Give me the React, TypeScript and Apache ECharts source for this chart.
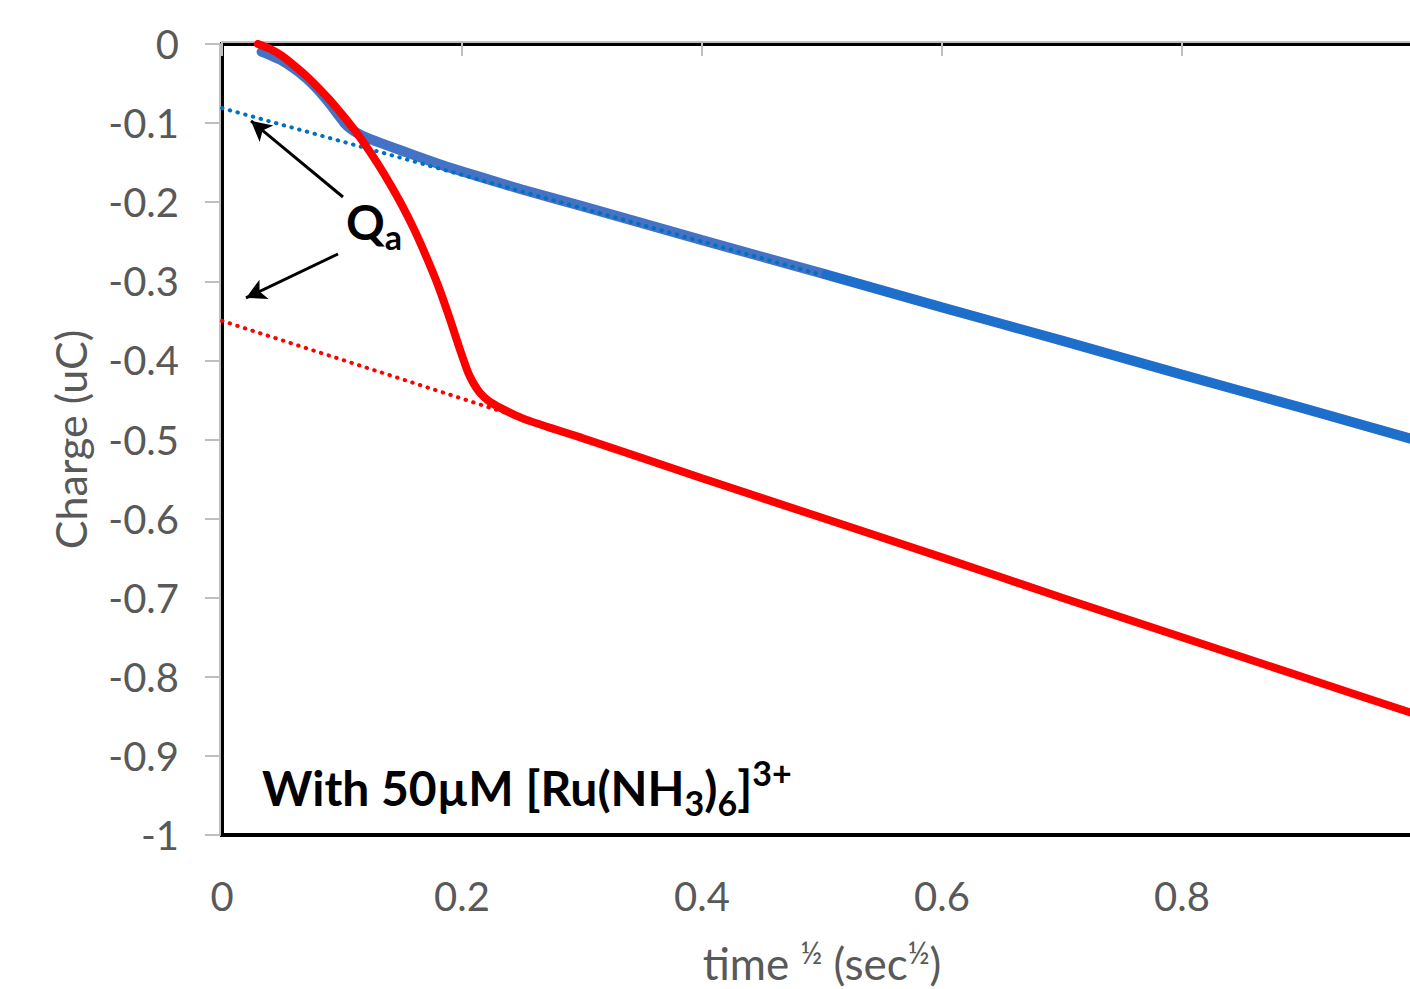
import React, { useEffect, useRef } from "react";
import * as echarts from "echarts";

// time^1/2 (sec^1/2) and charge (uC)
const blueT = [0.033, 0.04, 0.05, 0.06, 0.07, 0.08, 0.09, 0.097, 0.102, 0.107, 0.112, 0.12, 0.132, 0.15, 0.17, 0.187, 0.215, 0.25, 0.3, 0.4, 0.5, 0.6, 0.7, 0.8, 0.9, 1.0];
const blueQ = [-0.010, -0.014, -0.021, -0.031, -0.043, -0.058, -0.076, -0.090, -0.100, -0.107, -0.112, -0.118, -0.125, -0.135, -0.146, -0.155, -0.168, -0.184, -0.205, -0.248, -0.290, -0.333, -0.375, -0.418, -0.460, -0.503];

const redT = [0.03, 0.04, 0.05, 0.06, 0.07, 0.08, 0.09, 0.1, 0.11, 0.12, 0.13, 0.14, 0.15, 0.16, 0.17, 0.18, 0.19, 0.198, 0.205, 0.21, 0.215, 0.222, 0.232, 0.25, 0.273, 0.3, 0.4, 0.5, 0.6, 0.7, 0.8, 0.9, 1.0];
const redQ = [0.0, -0.006, -0.015, -0.027, -0.040, -0.055, -0.071, -0.089, -0.108, -0.129, -0.152, -0.177, -0.204, -0.234, -0.268, -0.305, -0.348, -0.385, -0.415, -0.430, -0.441, -0.451, -0.460, -0.473, -0.485, -0.498, -0.549, -0.599, -0.649, -0.700, -0.750, -0.800, -0.850];

// tangent (extrapolation) lines giving Qa
const blueFitT = [0, 0.5];
const blueFitQ = [-0.081, -0.292];
const redFitT = [0, 0.24];
const redFitQ = [-0.35, -0.468];

const xTicks = [0, 0.2, 0.4, 0.6, 0.8, 1.0];
const yTicks = [0, -0.1, -0.2, -0.3, -0.4, -0.5, -0.6, -0.7, -0.8, -0.9, -1];

// annotation arrows (tail -> head), in data coordinates
const arrows = [
  [[0.1008, -0.1934], [0.0242, -0.0973]],
  [[0.0967, -0.2655], [0.02, -0.321]],
];

const pairs = (xs: number[], ys: number[]) => xs.map((x, i) => [x, ys[i]]);

const FONT = "Lato, 'Open Sans', sans-serif";
const GRAY = "#595959";
const AXIS_GRAY = "#BFBFBF";

export default function App() {
  const ref = useRef<HTMLDivElement>(null);
  useEffect(() => {
    if (!ref.current) return;
    const chart = echarts.init(ref.current, null, { renderer: "svg" });
    const blueAll = pairs(blueT, blueQ);
    const option: any = {
      animation: false,
      backgroundColor: "#fff",
      textStyle: { fontFamily: FONT },
      grid: {
        left: 222,
        top: 44,
        width: 1200,
        height: 791,
        outerBoundsMode: "none",
        containLabel: false,
        show: true,
        borderColor: "#000",
        borderWidth: 4,
      },
      xAxis: [
        {
          type: "value",
          min: xTicks[0],
          max: xTicks[xTicks.length - 1],
          interval: 0.2,
          position: "bottom",
          axisLine: { show: false },
          axisTick: { show: false },
          splitLine: { show: false },
          axisLabel: {
            fontSize: 40,
            color: GRAY,
            fontFamily: FONT,
            margin: 41,
            formatter: (v: number) => (v >= 1 ? "" : String(+v.toFixed(1))),
          },
          name: "{a|time }{h|½}{a| (sec}{h|½}{a|)}",
          nameLocation: "middle",
          nameGap: 102,
          nameTextStyle: {
            rich: {
              a: { fontSize: 44, color: GRAY, fontFamily: FONT, lineHeight: 52 },
              h: { fontSize: 30, color: GRAY, fontFamily: FONT, lineHeight: 52, verticalAlign: "top" },
            },
          },
        },
        {
          type: "value",
          min: xTicks[0],
          max: xTicks[xTicks.length - 1],
          interval: 0.2,
          position: "top",
          offset: 2,
          axisLine: { show: true, onZero: false, lineStyle: { color: AXIS_GRAY, width: 2 } },
          axisTick: { show: true, inside: true, length: 14, lineStyle: { color: AXIS_GRAY, width: 2 } },
          axisLabel: { show: false },
          splitLine: { show: false },
        },
      ],
      yAxis: {
        type: "value",
        min: yTicks[yTicks.length - 1],
        max: yTicks[0],
        interval: 0.1,
        offset: 2,
        axisLine: { show: true, onZero: false, lineStyle: { color: AXIS_GRAY, width: 2 } },
        axisTick: { show: true, length: 15, lineStyle: { color: AXIS_GRAY, width: 2 } },
        splitLine: { show: false },
        axisLabel: {
          fontSize: 40,
          color: GRAY,
          fontFamily: FONT,
          margin: 41,
          formatter: (v: number) => String(+v.toFixed(1)),
        },
        name: "Charge (uC)",
        nameLocation: "middle",
        nameGap: 128,
        nameRotate: 90,
        nameTextStyle: { fontSize: 43, color: GRAY, fontFamily: FONT },
      },
      series: [
        {
          name: "blue",
          type: "line",
          data: blueAll,
          showSymbol: false,
          smooth: 0.2,
          lineStyle: { color: "#4472C4", width: 10, cap: "round" },
          z: 2,
        },
        {
          name: "blueTail",
          type: "line",
          data: blueAll.filter((p) => p[0] >= 0.5),
          showSymbol: false,
          lineStyle: { color: "#1C6FCA", width: 9 },
          z: 3,
        },
        {
          name: "blueFit",
          type: "line",
          data: pairs(blueFitT, blueFitQ),
          showSymbol: false,
          lineStyle: { color: "#0070C0", width: 4, type: [0.5, 7.5], cap: "round" },
          z: 4,
        },
        {
          name: "redFit",
          type: "line",
          data: pairs(redFitT, redFitQ),
          showSymbol: false,
          lineStyle: { color: "#FF0000", width: 4, type: [0.5, 7.5], cap: "round" },
          z: 4,
          markLine: {
            silent: true,
            symbol: ["none", "arrow"],
            symbolSize: [16, 20],
            label: { show: false },
            lineStyle: { color: "#000", width: 3, type: "solid" },
            data: arrows.map((a) => [{ coord: a[0] }, { coord: a[1] }]),
          },
        },
        {
          name: "red",
          type: "line",
          data: pairs(redT, redQ),
          showSymbol: false,
          smooth: 0.2,
          lineStyle: { color: "#FF0000", width: 8, cap: "round" },
          z: 5,
        },
      ],
      graphic: [
        {
          type: "text",
          left: 346,
          top: 197,
          z: 10,
          style: {
            text: "{q|Q}{s|a}",
            rich: {
              q: { fontSize: 48, fontWeight: "bold", fill: "#000", fontFamily: FONT, lineHeight: 64 },
              s: { fontSize: 34, fontWeight: "bold", fill: "#000", fontFamily: FONT, lineHeight: 14, verticalAlign: "bottom" },
            },
          },
        },
        {
          type: "text",
          left: 262,
          top: 755,
          z: 10,
          style: {
            text: "{m|With 50µM [Ru(NH}{d|3}{m|)}{d|6}{m|]}{u|3+}",
            rich: {
              m: { fontSize: 48, fontWeight: "bold", fill: "#000", fontFamily: FONT, lineHeight: 64 },
              d: { fontSize: 34, fontWeight: "bold", fill: "#000", fontFamily: FONT, lineHeight: 20, verticalAlign: "bottom" },
              u: { fontSize: 34, fontWeight: "bold", fill: "#000", fontFamily: FONT, lineHeight: 44, verticalAlign: "top" },
            },
          },
        },
      ],
    };
    chart.setOption(option);
    return () => chart.dispose();
  }, []);
  return (
    <div style={{ position: "absolute", left: 0, top: 0, width: 1410, height: 989, overflow: "hidden", background: "#fff" }}>
      <div ref={ref} style={{ width: 1440, height: 989 }} />
    </div>
  );
}
